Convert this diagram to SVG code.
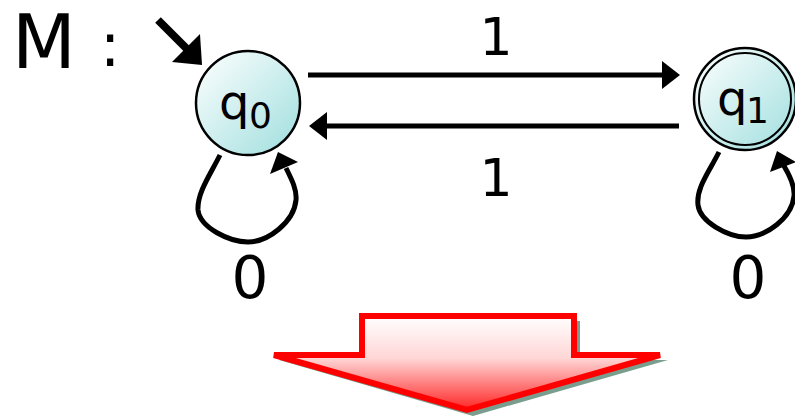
<svg xmlns="http://www.w3.org/2000/svg" width="795" height="416" viewBox="0 0 795 416">
<defs>
<linearGradient id="cg" x1="0" y1="0" x2="1" y2="1">
<stop offset="0" stop-color="#ffffff"/>
<stop offset="1" stop-color="#9fdede"/>
</linearGradient>
<linearGradient id="rg" x1="0" y1="0" x2="0" y2="1">
<stop offset="0" stop-color="#ffffff"/>
<stop offset="0.45" stop-color="#ffd6d6"/>
<stop offset="1" stop-color="#ff2424"/>
</linearGradient>
</defs>
<style>
.t{font-family:"DejaVu Sans","Liberation Sans",sans-serif;fill:#000}
.e{fill:none;stroke:#000;stroke-width:5;stroke-linecap:butt}
.h{fill:#000}
.st{fill:url(#cg);stroke:#000;stroke-width:2.5}
</style>
<text class="t" x="12" y="68" font-size="74">M</text>
<text class="t" x="100" y="66" font-size="60">:</text>
<g id="connectors">
<line x1="158" y1="20" x2="188" y2="50" stroke="#000" stroke-width="8"/>
<polygon class="h" points="202,65 172,62 200,34"/>
<line class="e" x1="308" y1="75" x2="664" y2="75"/>
<polygon class="h" points="680,75 662,61 662,89"/>
<line class="e" x1="679" y1="126" x2="325" y2="126"/>
<polygon class="h" points="309,126 327,112 327,140"/>
<path class="e" d="M220,155 C210,175 197,193 198,210 C200,228 230,242 248,242 C268,242 294,222 296,200 C297,190 292,180 286,168"/>
<polygon class="h" points="278,152 270,174 298,162"/>
<path class="e" d="M719,152 C709,172 696,188 698,205 C700,222 728,237 746,237 C766,237 792,218 794,196 C795,186 790,176 784,166"/>
<polygon class="h" points="777,151 770,172 796,162"/>
<text class="t" x="496" y="55" font-size="52" text-anchor="middle">1</text>
<text class="t" x="496" y="196" font-size="52" text-anchor="middle">1</text>
<text class="t" x="250" y="298" font-size="58" text-anchor="middle">0</text>
<text class="t" x="748" y="298" font-size="58" text-anchor="middle">0</text>
</g>
<g id="q0">
<circle class="st" cx="248" cy="103" r="52"/>
<text class="t" x="219" y="119" font-size="48">q</text>
<text class="t" x="249" y="128" font-size="36">0</text>
</g>
<g id="q1">
<circle class="st" cx="745" cy="99" r="51"/>
<circle cx="745" cy="99" r="46" fill="none" stroke="#000" stroke-width="2"/>
<text class="t" x="717" y="115" font-size="48">q</text>
<text class="t" x="746" y="123" font-size="36">1</text>
</g>
<g id="bigarrow">
<path d="M367,321 L580,321 L580,360 L668,360 L473,416 L279,360 L367,360 z" fill="#7a9e8e"/>
<path d="M362,316 L574,316 L574,355 L660,355 L467,410 L274,355 L362,355 z" fill="url(#rg)" stroke="#ff0000" stroke-width="6" stroke-linejoin="miter"/>
</g>
</svg>
